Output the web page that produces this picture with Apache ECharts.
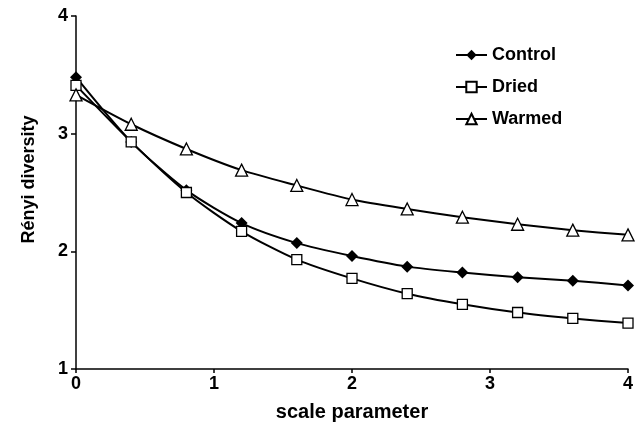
<!DOCTYPE html>
<html><head><meta charset="utf-8">
<script src="https://cdn.jsdelivr.net/npm/echarts@6/dist/echarts.min.js"></script>
<style>html,body{margin:0;padding:0;background:#fff}#c{width:641px;height:428px}</style>
</head><body><div id="c"></div>
<script>
const scaleParam = [0, 0.4, 0.8, 1.2, 1.6, 2.0, 2.4, 2.8, 3.2, 3.6, 4.0];
const control = [3.48, 2.93, 2.52, 2.24, 2.07, 1.96, 1.87, 1.82, 1.78, 1.75, 1.71];
const dried   = [3.41, 2.93, 2.50, 2.17, 1.93, 1.77, 1.64, 1.55, 1.48, 1.43, 1.39];
const warmed  = [3.33, 3.08, 2.87, 2.69, 2.56, 2.44, 2.36, 2.29, 2.23, 2.18, 2.14];
const xTicks = [0, 1, 2, 3, 4];
const yTicks = [1, 2, 3, 4];

const font = 'Liberation Sans, Arial, sans-serif';
function pairs(v){ return scaleParam.map((x,i)=>[x, v[i]]); }
function mk(name, data, symbol, size, fill){
  return {
    name, type:'line', data: pairs(data), smooth: 0.25,
    symbol, symbolSize: size,
    lineStyle:{color:'#000', width:2},
    itemStyle:{color: fill, borderColor:'#000', borderWidth: fill==='#000'?0:1.3},
    emphasis:{disabled:true}
  };
}
const chart = echarts.init(document.getElementById('c'), null, {renderer:'canvas'});
chart.setOption({
  animation:false,
  backgroundColor:'#fff',
  grid:{left:76, right:13, top:16, bottom:59, containLabel:false},
  legend:{
    orient:'vertical', left:450, top:41, itemGap:14, itemWidth:31, itemHeight:13,
    textStyle:{fontFamily:font, fontWeight:'bold', fontSize:18, color:'#000'},
    data:['Control','Dried','Warmed']
  },
  xAxis:{
    type:'value', min:0, max:4, interval:1,
    name:'scale parameter', nameLocation:'middle', nameGap:33,
    nameTextStyle:{fontFamily:font, fontWeight:'bold', fontSize:20, color:'#000'},
    axisLine:{lineStyle:{color:'#000', width:1.5}},
    axisTick:{show:true, length:4, lineStyle:{color:'#000', width:1.5}},
    axisLabel:{fontFamily:font, fontWeight:'bold', fontSize:18, color:'#000', margin:6,
      formatter:v=>xTicks.includes(v)?String(v):''},
    splitLine:{show:false}
  },
  yAxis:{
    type:'value', min:1, max:4, interval:1,
    name:'Rényi diversity', nameLocation:'middle', nameGap:38, nameRotate:90,
    nameTextStyle:{fontFamily:font, fontWeight:'bold', fontSize:18, color:'#000', padding:[0,0,0,26]},
    axisLine:{show:true, lineStyle:{color:'#000', width:1.5}},
    axisTick:{show:true, length:5, lineStyle:{color:'#000', width:1.5}},
    axisLabel:{fontFamily:font, fontWeight:'bold', fontSize:18, color:'#000', margin:8,
      formatter:v=>yTicks.includes(v)?String(v):''},
    splitLine:{show:false}
  },
  series:[
    mk('Control', control, 'diamond', 12, '#000'),
    mk('Dried', dried, 'rect', 10, '#fff'),
    mk('Warmed', warmed, 'triangle', 12, '#fff')
  ]
});
</script></body></html>
